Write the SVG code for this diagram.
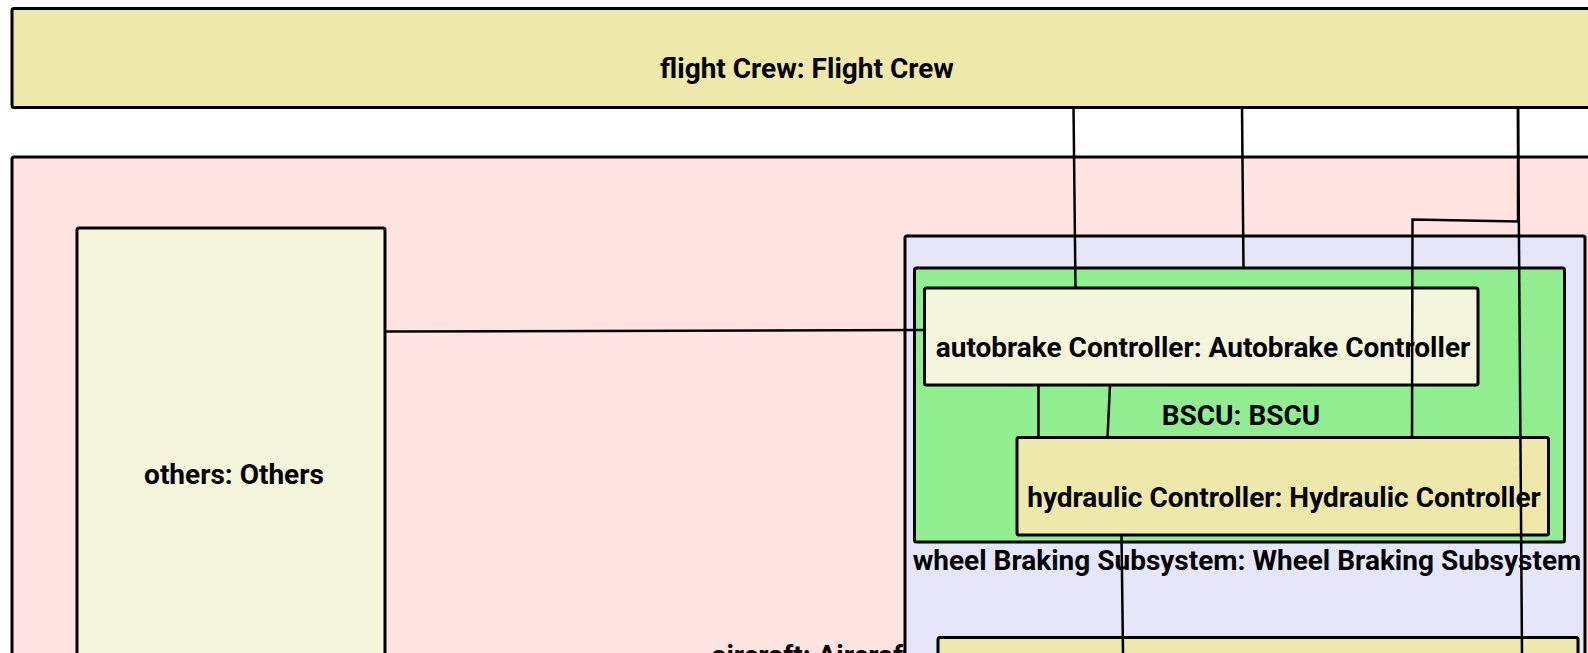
<svg xmlns="http://www.w3.org/2000/svg" width="1588" height="653" viewBox="0 0 1588 653">
<style>
.box{stroke:#000;stroke-width:3}
.lbl{font-family:Roboto,"Liberation Sans",sans-serif;font-weight:bold;font-size:28px;fill:#000;text-anchor:middle}
.conn line,.conn polyline{stroke:#000;stroke-width:2.5;fill:none}
</style>
<rect width="1588" height="653" fill="#fff"/>
<g id="flightCrew">
<rect class="box" x="12" y="8.5" width="1600" height="99" rx="2" fill="#EEE8AA"/>
<text class="lbl" x="807" y="78">flight Crew: Flight Crew</text>
</g>
<g id="aircraft">
<rect class="box" x="12" y="157" width="1600" height="560" rx="2" fill="#FFE4E1"/>
<text class="lbl" x="812" y="665">aircraft: Aircraft</text>
</g>
<g id="others">
<rect class="box" x="77" y="228" width="308" height="472" rx="2" fill="#F5F5DC"/>
<text class="lbl" x="234" y="484">others: Others</text>
</g>
<g id="wheelBrakingSubsystem">
<rect class="box" x="905" y="236" width="680" height="480" rx="2" fill="#E6E6FA"/>
<text class="lbl" x="1247" y="570">wheel Braking Subsystem: Wheel Braking Subsystem</text>
</g>
<g id="bscu">
<rect class="box" x="914.5" y="268" width="650" height="274" rx="2" fill="#90EE90"/>
<text class="lbl" x="1241" y="425">BSCU: BSCU</text>
</g>
<g id="autobrakeController">
<rect class="box" x="924.5" y="288" width="553.5" height="97" rx="2" fill="#F5F5DC"/>
<text class="lbl" x="1203" y="357">autobrake Controller: Autobrake Controller</text>
</g>
<g id="hydraulicController">
<rect class="box" x="1017" y="437.5" width="531.5" height="97.5" rx="2" fill="#EEE8AA"/>
<text class="lbl" x="1284" y="507">hydraulic Controller: Hydraulic Controller</text>
</g>
<g id="bottomNode">
<rect class="box" x="938" y="637.5" width="640" height="100" rx="2" fill="#EEE8AA"/>
</g>
<g class="conn" id="connectors">
<line x1="1073.5" y1="107" x2="1075.5" y2="288"/>
<line x1="1242" y1="107" x2="1243.5" y2="268"/>
<polyline points="1518,107 1518,221.5 1412.5,219.5 1412,437.5"/>
<line x1="1518" y1="107" x2="1522" y2="653"/>
<line x1="385" y1="331.5" x2="924.5" y2="330"/>
<line x1="1038.5" y1="385" x2="1038.5" y2="437.5"/>
<line x1="1110" y1="385" x2="1107.5" y2="437.5"/>
<line x1="1121.5" y1="535" x2="1123" y2="653"/>
</g>
</svg>
